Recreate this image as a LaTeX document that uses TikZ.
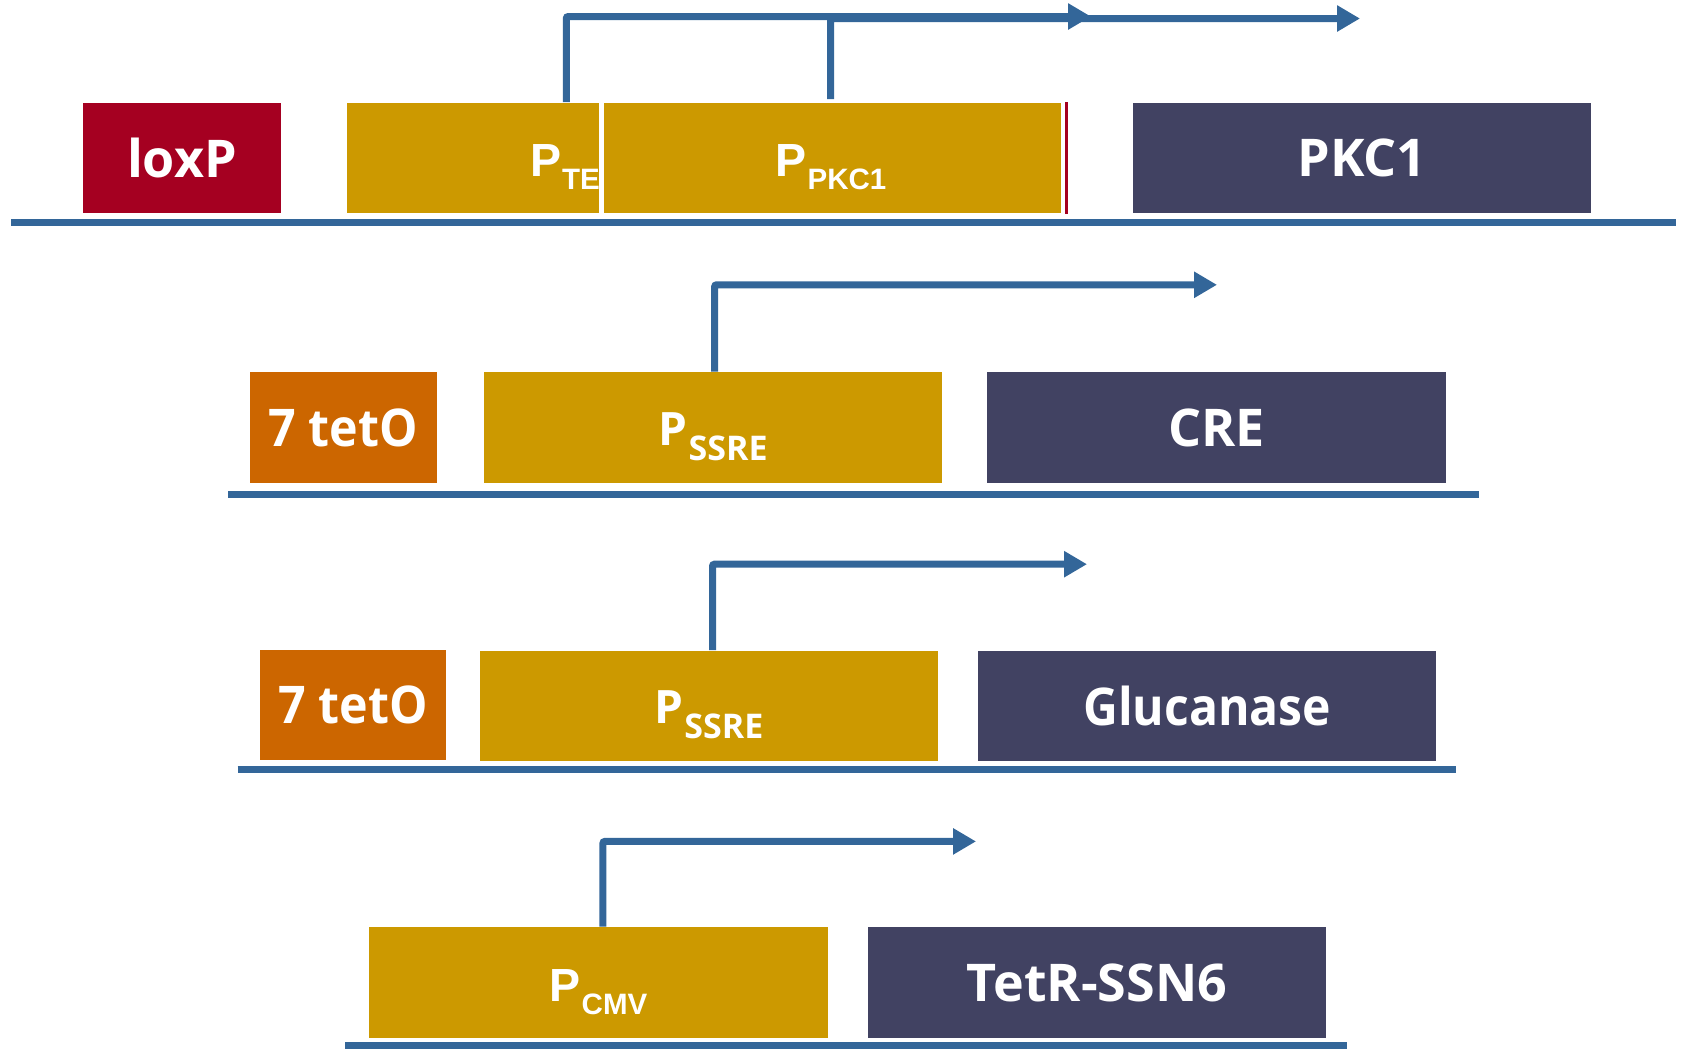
\documentclass[tikz,border=0pt]{standalone}
\usepackage{fontspec}
\usepackage{graphicx}
\setmainfont{Open Sans}
\newfontfamily\arialfont{Liberation Sans}
\usetikzlibrary{arrows.meta}
\definecolor{gold}{HTML}{CC9900}
\definecolor{loxred}{HTML}{A50021}
\definecolor{teto}{HTML}{CC6600}
\definecolor{navy}{HTML}{414262}
\definecolor{lineblue}{HTML}{336699}
\newcommand\PsubA[1]{{\arialfont\bfseries\fontsize{46.5}{46.5}\selectfont P\hspace{1pt}\raisebox{-12.3pt}{\fontsize{29.5}{29.5}\selectfont #1}}}
\newcommand\PsubO[1]{{\bfseries\fontsize{46}{46}\selectfont P\hspace{1.5pt}\raisebox{-15pt}{\fontsize{34}{34}\selectfont #1}}}
\tikzset{
  box/.style={draw=white, line width=1.2pt, inner sep=0pt, outer sep=0pt, minimum height=112pt},
  lbl/.style={text=white, font=\fontsize{52}{52}\selectfont\bfseries, inner sep=0pt},
  plbl/.style={text=white, inner sep=0pt, anchor=base},
  dna/.style={draw=lineblue, line width=6.5pt},
  arr/.style={draw=lineblue, line width=7pt, rounded corners=2pt, -{Triangle[length=23pt,width=25pt]}},
}
\begin{document}
\begin{tikzpicture}[x=1pt,y=-1pt]
\useasboundingbox (0,0) rectangle (1685,1053);
% ---------- row 1 ----------
\node[box, fill=loxred, minimum width=199pt] (lox) at (182,158) {};
\node[lbl] (loxl) at (lox) {loxP};
\node[box, fill=gold, minimum width=254pt] (pte) at (473,158) {};
\node[plbl, anchor=base west] (ptel) at (530,176.7) {\PsubA{TEF1}};
\node[box, fill=gold, minimum width=459pt] (ppkc) at (832.5,158) {};
\node[plbl] (ppkcl) at (831,176.7) {\PsubA{PKC1}};
\node[fill=loxred, inner sep=0pt, minimum width=3pt, minimum height=112pt] (lox2) at (1066,158) {};
\node[box, fill=navy, minimum width=459pt] (pkc) at (1362,158) {};
\node[lbl] (pkcl) at (pkc) {PKC1};
\coordinate (d1a) at (11,222.5);
\coordinate (d1b) at (1676,222.5);
\draw[dna] (d1a) -- (d1b);
\coordinate (t1) at (1091,16.5);
\coordinate (t2) at (1360,18.5);
\draw[arr] (pte.north -| 566.3,0) |- (t1);
\draw[arr] (830.7,99) |- (t2);
% ---------- row 2 ----------
\node[box, fill=teto, minimum width=188pt] (tet1) at (343.3,427.6) {};
\node[lbl] (tet1l) at (tet1) {\scalebox{0.93}[1]{7 tetO}};
\node[box, fill=gold, minimum width=459pt] (ssre1) at (713,427.6) {};
\node[plbl] (ssre1l) at (713,445) {\PsubO{SSRE}};
\node[box, fill=navy, minimum width=460pt] (cre) at (1216.5,427.6) {};
\node[lbl] (crel) at (cre) {CRE};
\coordinate (d2a) at (228,494.3);
\coordinate (d2b) at (1479,494.3);
\draw[dna] (d2a) -- (d2b);
\coordinate (t3) at (1217,284.8);
\draw[arr] (ssre1.north -| 714.6,0) |- (t3);
% ---------- row 3 ----------
\node[box, fill=teto, minimum width=188pt] (tet2) at (353,705) {};
\node[lbl] (tet2l) at (tet2) {\scalebox{0.93}[1]{7 tetO}};
\node[box, fill=gold, minimum width=459pt] (ssre2) at (708.7,706) {};
\node[plbl] (ssre2l) at (708.7,723.5) {\PsubO{SSRE}};
\node[box, fill=navy, minimum width=459pt] (glu) at (1207.3,706) {};
\node[lbl] (glul) at (glu) {\scalebox{0.925}[1]{Glucanase}};
\coordinate (d3a) at (237.5,769.4);
\coordinate (d3b) at (1456,769.4);
\draw[dna] (d3a) -- (d3b);
\coordinate (t4) at (1087,564.2);
\draw[arr] (ssre2.north -| 712.5,0) |- (t4);
% ---------- row 4 ----------
\node[box, fill=gold, minimum width=460pt] (cmv) at (598.5,982.7) {};
\node[plbl] (cmvl) at (598.5,1001.7) {\PsubA{CMV}};
\node[box, fill=navy, minimum width=460pt] (tetr) at (1097,982.7) {};
\node[lbl] (tetrl) at (tetr) {TetR-SSN6};
\coordinate (d4a) at (345,1045.6);
\coordinate (d4b) at (1346.5,1045.6);
\draw[dna] (d4a) -- (d4b);
\coordinate (t5) at (976,841.4);
\draw[arr] (cmv.north -| 602.9,0) |- (t5);
\end{tikzpicture}
\end{document}
